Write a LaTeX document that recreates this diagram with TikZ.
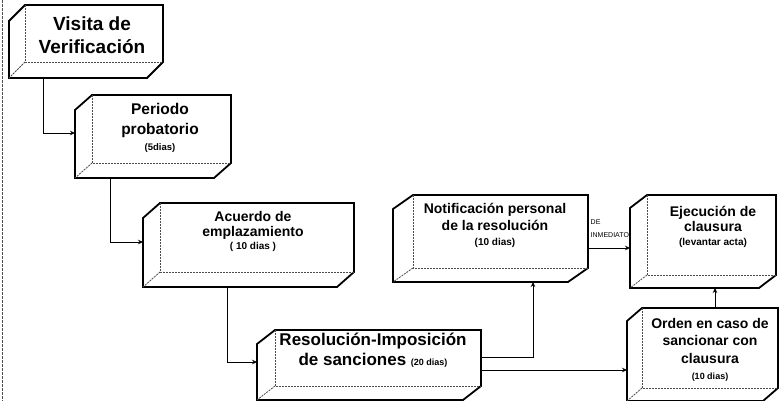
\documentclass[tikz,border=0pt]{standalone}
\usepackage{fontspec}
\setmainfont{Liberation Sans}
\usetikzlibrary{calc,arrows.meta}
\newcommand\fs[2]{\fontsize{#1}{#2}\selectfont}
\newcommand\drawcube[3]{%
  \draw[boxline] (#1.north west) -- ++(-#2,#3) -- ($(#1.south west)+(-#2,#3)$)
     -- ($(#1.south east)+(-#2,#3)$) -- (#1.south east) -- (#1.north east) -- cycle;
  \draw[innerline] (#1.north west) -- (#1.south west) -- (#1.south east);
  \draw[innerline] (#1.south west) -- ++(-#2,#3);
  \coordinate (#1-bl) at ($(#1.south west)+(-#2,#3)$);
}
\begin{document}
\begin{tikzpicture}[x=1pt,y=-1pt,
  face/.style={draw=none,inner sep=0,outer sep=0},
  boxline/.style={draw=black,line width=1.8pt,fill=white,line join=miter},
  innerline/.style={draw=black!70,line width=0.8pt,dash pattern=on 2pt off 1pt},
  txt/.style={font=\bfseries,align=center,inner sep=0},
  conn/.style={draw=black,line width=0.9pt,-{Stealth[length=5pt,width=4.5pt]}},
  lab/.style={font=\fs{7}{12.5},align=left,inner sep=0,anchor=west}]
\useasboundingbox (0,0) rectangle (779,401);
% page border of the scan
\draw[black!70,line width=1pt,dash pattern=on 3pt off 1pt] (2,0) -- (2,401);

% boxes (front faces)
\node[face,minimum width=138pt,minimum height=57pt] (b1) at (94,33.5) {};
\node[face,minimum width=139pt,minimum height=68pt] (b2) at (161.5,129) {};
\node[face,minimum width=194pt,minimum height=69pt] (b3) at (257,237.5) {};
\node[face,minimum width=206pt,minimum height=56pt] (b4) at (378,358) {};
\node[face,minimum width=175pt,minimum height=73pt] (b5) at (500.5,231.5) {};
\node[face,minimum width=129pt,minimum height=80pt] (b6) at (711.5,235) {};
\node[face,minimum width=136pt,minimum height=80pt] (b7) at (710,348) {};

\drawcube{b1}{16}{16}
\drawcube{b2}{17}{15}
\drawcube{b3}{17}{15}
\drawcube{b4}{18}{14}
\drawcube{b5}{20}{14}
\drawcube{b6}{17}{13}
\drawcube{b7}{15}{13}

% texts
\node[txt,font=\bfseries\fs{19}{23}] (t1) at (92,35) {Visita de\\Verificación};
\node[txt,font=\bfseries\fs{15.5}{20}] (t2) at (160,128) {Periodo\\probatorio\\[-4pt]{\fs{9.5}{10}(5dias)}};
\node[txt,font=\bfseries\fs{14}{15}] (t3) at (253,231) {Acuerdo de\\emplazamiento\\[-2pt]{\fs{10}{11}( 10 dias )}};
\node[txt,font=\bfseries\fs{17}{20}] (t4) at (373,350) {Resolución-Imposición\\de sanciones {\fs{9}{10}(20 dias)}};
\node[txt,font=\bfseries\fs{14}{17}] (t5) at (495,225) {Notificación personal\\de la resolución\\[-2pt]{\fs{10}{11}(10 dias)}};
\node[txt,font=\bfseries\fs{14}{15}] (t6) at (713,227) {Ejecución de\\clausura\\[-1pt]{\fs{10}{11}(levantar acta)}};
\node[txt,font=\bfseries\fs{14}{17.5}] (t7) at (710,350) {Orden en caso de\\sancionar con\\clausura\\[-1pt]{\fs{9}{11}(10 dias)}};

% connectors
\draw[conn] ($(b1-bl)+(34,0)$) |- ($(b2.west)+(-17,4)$);
\draw[conn] ($(b2-bl)+(35,0)$) |- ($(b3.west)+(-17,4.5)$);
\draw[conn] ($(b3-bl)+(84,0)$) |- ($(b4.west)+(-18,4)$);
\draw[conn] ($(b4.east)+(0,-1)$) -| ($(b5-bl)+(140,0)$);
\coordinate (c5s) at ($(b4.east)+(0,12)$);
\draw[conn] (c5s) -- (c5s -| b7-bl);
\coordinate (c6s) at ($(b7.north)+(5,0)$);
\draw[conn] (c6s) -- (c6s |- b6-bl);
\coordinate (c7s) at ($(b5.east)+(0,16.5)$);
\draw[conn] (c7s) -- (c7s -| b6-bl);
\node[lab] (l7) at ($(c7s)+(2.5,-19.5)$) {DE\\INMEDIATO};
\end{tikzpicture}
\end{document}
